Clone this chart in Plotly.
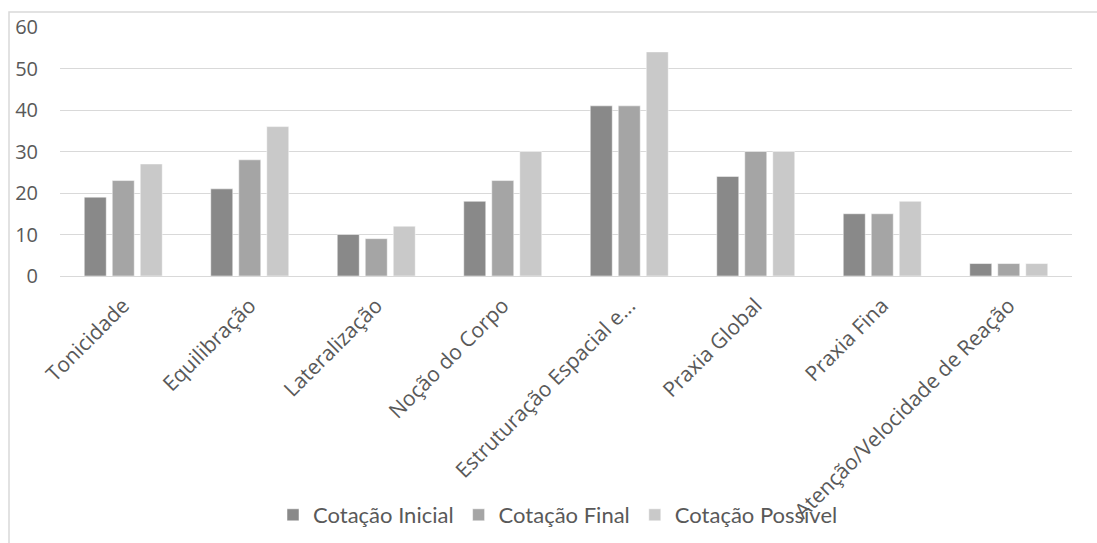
import plotly.graph_objects as go

categories = ["Tonicidade", "Equilibração", "Lateralização", "Noção do Corpo",
              "Estruturação Espacial e...", "Praxia Global", "Praxia Fina",
              "Atenção/Velocidade de Reação"]
cot_inicial = [19, 21, 10, 18, 41, 24, 15, 3]
cot_final = [23, 28, 9, 23, 41, 30, 15, 3]
cot_possivel = [27, 36, 12, 30, 54, 30, 18, 3]
series_names = ["Cotação Inicial", "Cotação Final", "Cotação Possível"]
colors = ["#898989", "#a5a5a5", "#c9c9c9"]
y_ticks = [0, 10, 20, 30, 40, 50, 60]

fig = go.Figure()
for name, vals, col in zip(series_names, [cot_inicial, cot_final, cot_possivel], colors):
    fig.add_trace(go.Bar(x=categories, y=vals, name=name,
                         marker=dict(color=col, line=dict(color="#ffffff", width=0.5))))

W, H = 1097, 543
L, R, T, B = 60, 25, 27, 267
pw, ph = W - L - R, H - T - B

fig.update_layout(
    width=W, height=H,
    margin=dict(l=L, r=R, t=T, b=B, autoexpand=False),
    paper_bgcolor="white", plot_bgcolor="white",
    barmode="group", bargap=0.336, bargroupgap=0.214,
    font=dict(family="Open Sans", color="#595959"),
    showlegend=True,
    legend=dict(orientation="h", x=(558 - L) / pw, xanchor="center", y=(276 - 515) / ph,
                yanchor="middle", font=dict(family="Lato", size=22, color="#595959"),
                itemwidth=30, traceorder="normal", bgcolor="rgba(0,0,0,0)"),
    xaxis=dict(tickangle=-45, tickfont=dict(family="Open Sans", size=21, color="#595959"),
               showgrid=False, showline=True, linecolor="#d9d9d9", linewidth=1,
               ticks="", automargin=False, ticklabelstandoff=8),
    yaxis=dict(range=[0, 60], tickvals=y_ticks, showgrid=True, gridcolor="#d9d9d9",
               gridwidth=1, zeroline=False, showline=False, ticks="",
               tickfont=dict(family="Open Sans", size=20, color="#595959"),
               ticklabelstandoff=21, automargin=False),
    shapes=[dict(type="rect", xref="paper", yref="paper",
                 x0=(9 - L) / pw, x1=(W + 5 - L) / pw,
                 y0=-(H + 5 - (H - B)) / ph, y1=(H - B - 12) / ph,
                 line=dict(color="#d9d9d9", width=1.5), fillcolor="rgba(0,0,0,0)",
                 layer="below")],
)

fig.write_html("out.html")
